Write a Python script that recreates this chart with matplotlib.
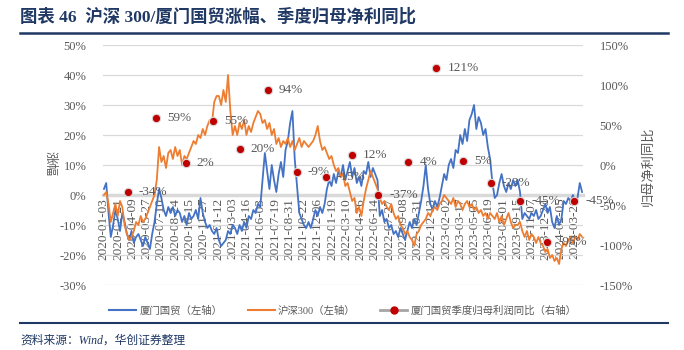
import numpy as np
import matplotlib
matplotlib.use("Agg")
import matplotlib.pyplot as plt
from matplotlib.lines import Line2D

plt.rcParams['font.family'] = ['Liberation Serif', 'Noto Sans CJK SC', 'DejaVu Sans']

# cumulative change since 2020-01-03, %, one reading every 5 trading days
xmgm = [2, 4, -6, -14, -10, -5, -8, -12, -6, -9,
        -13, -15, -12, -16, -14, -13, -15, -17, -14, -16,
        -18, -13, -9, -3, 2, -1, -5, -7, -4, -6,
        -4, -7, -5, -6, -9, -7, -10, -6, -8, -7,
        -5, -8, -1, -6, -9, -11, -10, -12, -13, -11,
        -15, -17, -16, -15, -12, -13, -10, -11, -13, -10,
        -12, -9, -11, -7, -8, -5, -6, -3, -4, 5,
        14, 8, 2, 10, 5, 1, 7, 11, 6, 15,
        18, 24, 28, 12, 3, -6, -8, -10, -11, -9,
        -11, -8, -5, -7, -4, -6, -3, 2, 5, 3,
        7, 4, 8, 6, 10, 5, 8, 11, 6, 9,
        4, 6, 3, 8, 7, 11, 6, 9, 7, 5,
        -7, -5, -9, -8, -11, -10, -13, -12, -14, -11,
        -13, -15, -12, -9, -11, -8, -10, -6, -2, 3,
        10, 2, -3, -5, -2, -4, -1, 3, 7, 5,
        10, 12, 9, 15, 14, 20, 17, 22, 18, 25,
        27, 30, 22, 26, 24, 20, 22, 16, 12, 4,
        -1, 0, 4, 7, 3, 1, 4, 2, 5, 3,
        5, 1, -8, -6, -7, -8, -6, -7, -5, -8,
        -7, -5, -3, -6, -4, -9, -11, -7, -10, -8,
        -2, -3, -1, -2, 0, -2, -1, 4, 1]
hs300 = [0, 1, -3, -9, -6, -3, -7, -2, -4, -10,
         -13, -15, -14, -12, -9, -10, -7, -9, -8, -6,
         -4, -2, 0, 5, 16, 11, 13, 9, 14, 15,
         12, 16, 13, 15, 10, 13, 12, 14, 16, 18,
         17, 20, 19, 22, 20, 23, 25, 24, 31, 33,
         33, 30, 35, 31, 40, 28, 20, 23, 20, 24,
         22, 25, 20, 23, 21, 24, 26, 28, 27, 24,
         25, 22, 24, 20, 22, 17, 19, 16, 18, 17,
         19, 16, 18, 15, 17, 19, 16, 18, 17, 16,
         17, 18, 20, 23, 18, 15, 16, 14, 12, 13,
         10, 8, 9, 6, 7, 3, 4, 1, -2, -1,
         -6, -4, -7, -2, 2, 5, 8, 6, 4, 2,
         -1, -3, -2, -4, -5, -3, -6, -8, -7, -10,
         -11, -13, -12, -14, -15, -17, -13, -12, -10, -9,
         -8, -6, -7, -5, -4, -5, -3, -2, 0, -1,
         -2, -3, -1, -4, -2, -3, -5, -3, -2, -4,
         -3, -5, -4, -6, -5, -7, -6, -8, -6, -7,
         -8, -6, -9, -7, -10, -8, -6, -9, -11, -10,
         -10, -9, -12, -14, -12, -15, -13, -14, -16, -14,
         -16, -17, -19, -18, -21, -20, -22, -21, -23, -18,
         -16, -17, -15, -14, -16, -14, -15, -13, -14]
step = 5

# quarterly net profit yoy (right axis), trading-day index of each point
q_idx = [52, 113, 178, 237, 295, 356, 419, 482, 539, 597, 662, 723, 782, 841, 906, 964, 1023]
q_yoy = [-34, 59, 2, 55, 20, 94, -9, -15, 12, -37, 4, 121, 5, -23, -45, -96, -45]

tick_labels = ['2020-01-03', '2020-02-21', '2020-04-09', '2020-05-27', '2020-07-10', '2020-08-24',
               '2020-10-15', '2020-11-27', '2021-01-12', '2021-03-03', '2021-04-16', '2021-06-03',
               '2021-07-19', '2021-08-31', '2021-10-22', '2021-12-06', '2022-01-19', '2022-03-10',
               '2022-04-26', '2022-06-14', '2022-07-27', '2022-09-08', '2022-10-31', '2022-12-13',
               '2023-02-02', '2023-03-17', '2023-05-05', '2023-06-19', '2023-08-01', '2023-09-15',
               '2023-11-07', '2023-12-20', '2024-02-05', '2024-03-26']
tick_step = 31

gray = '#595959'
grid = '#D9D9D9'
navy = '#1F3864'

fig = plt.figure(figsize=(6.84, 3.5), dpi=100)
ax = fig.add_axes([103/684, 65/350, 480/684, 240/350])

ax.plot(np.arange(len(xmgm)) * step, xmgm, color='#4472C4', lw=1.3, zorder=3)
ax.plot(np.arange(len(hs300)) * step, hs300, color='#ED7D31', lw=1.3, zorder=3)

ax.set_xlim(-2, 1042)
ax.set_ylim(-30, 50)
ax.set_yticks(range(-30, 51, 10))
ax.set_yticklabels([f'{v}%' for v in range(-30, 51, 10)])
ax.set_xticks(np.arange(len(tick_labels)) * tick_step)
ax.set_xticklabels(tick_labels)
ax.yaxis.grid(True, color=grid, lw=0.9)
ax.set_axisbelow(True)
for s in ['top', 'left', 'right']:
    ax.spines[s].set_visible(False)
ax.spines['bottom'].set_position(('data', 0))
ax.spines['bottom'].set_color(grid)
ax.spines['bottom'].set_linewidth(2.5)
ax.spines['bottom'].set_zorder(1)
ax.tick_params(axis='x', length=0, pad=2, labelrotation=90, labelsize=9.5, labelcolor=gray)
ax.tick_params(axis='y', length=0, pad=12, labelsize=9, labelcolor=gray)
ax.set_ylabel('涨幅', color=gray, fontsize=9, rotation=270, va='center')
ax.yaxis.set_label_coords(-0.110, 0.508)

ax2 = ax.twinx()
ax2.set_ylim(-150, 150)
ax2.set_yticks(range(-150, 151, 50))
ax2.set_yticklabels([f'{v}%' for v in range(-150, 151, 50)])
for s in ax2.spines.values():
    s.set_visible(False)
ax2.tick_params(axis='y', length=0, pad=12, labelsize=9, labelcolor=gray)
ax2.set_ylabel('归母净利同比', color=gray, fontsize=9.5)
ax2.yaxis.set_label_coords(1.123, 0.496)
ax2.plot(q_idx, q_yoy, ls='none', marker='o', ms=6, color='#C00000', mec=grid, mew=0.8, zorder=4)
for xi, v in zip(q_idx, q_yoy):
    ax2.annotate(f'{v}%', (xi, v), xytext=(8, 0), textcoords='offset points',
                 va='center', ha='left', fontsize=9.5, color=gray)

handles = [Line2D([], [], color='#4472C4', lw=1.5),
           Line2D([], [], color='#ED7D31', lw=1.5),
           Line2D([], [], color='#A5A5A5', lw=2, marker='o', ms=5, mfc='#C00000', mec='#C00000')]
labels = ['厦门国贸（左轴）', '沪深300（左轴）', '厦门国贸季度归母利润同比（右轴）']
fig.legend(handles, labels, loc='center', bbox_to_anchor=(343/684, 1 - 311/350), ncol=3,
           frameon=False, fontsize=7.5, handlelength=2.6, handletextpad=0.3, columnspacing=2.4,
           labelcolor=gray)

fig.text(20/684, 1 - 17/350, '图表 46  沪深 300/厦门国贸涨幅、季度归母净利同比', fontsize=12.5,
         fontweight='bold', color=navy, va='center', ha='left')
fig.add_artist(Line2D([20/684, 668/684], [1 - 33/350] * 2, color=navy, lw=1.8))
fig.add_artist(Line2D([20/684, 668/684], [1 - 323/350] * 2, color=navy, lw=1.5))
fig.text(20/684, 1 - 341/350, '资料来源：Wind，华创证券整理', fontsize=8.5, style='italic',
         color=navy, va='center', ha='left')

fig.savefig('out.png', dpi=100)
